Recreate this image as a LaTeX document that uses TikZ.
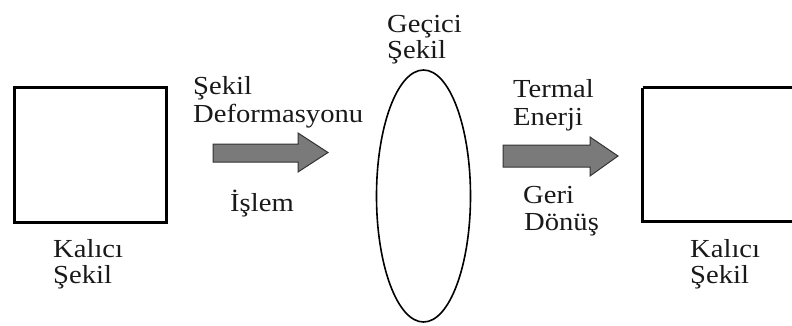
\documentclass[tikz,border=0pt]{standalone}
\usepackage{fontspec}
\setmainfont{Liberation Serif}
\usetikzlibrary{shapes.geometric}
\begin{document}
\begin{tikzpicture}[x=1pt,y=-1pt,
  lbl/.style={anchor=base west,inner sep=0pt,xscale=1.1,font=\fontsize{26}{29}\selectfont,text=black!90},
  shapebox/.style={draw=black,line width=3pt},
  bigarrow/.style={draw=black!80,line width=1pt,fill=black!52,line join=miter}]
\useasboundingbox (0,0) rectangle (792,325);
\clip (0,0) rectangle (792,325);
% shapes
\node[shapebox,minimum width=152pt,minimum height=135pt,inner sep=0pt] (left) at (90,155) {};
\draw[shapebox] (642.5,87.5) -- (800,87.5) (642.5,87.5) -- (642.5,221) -- (800,221);
\coordinate (right) at (700,155);
\node[draw=black,line width=1.6pt,ellipse,minimum width=94pt,minimum height=252pt,inner sep=0pt] (mid) at (423.5,196) {};
% arrows
\draw[bigarrow] (213,144) -- (298,144) -- (298,133) -- (328,152.5) -- (298,172) -- (298,162) -- (213,162) -- cycle;
\draw[bigarrow] (503,145) -- (590,145) -- (590,137) -- (618,156) -- (590,176) -- (590,167) -- (503,167) -- cycle;
% labels
\node[lbl] (t1a) at (193,94) {Şekil};
\node[lbl] (t1b) at (193,122) {Deformasyonu};
\node[lbl] (t2) at (230,211) {İşlem};
\node[lbl] (t3a) at (387,32) {Geçici};
\node[lbl] (t3b) at (387,58) {Şekil};
\node[lbl] (t4a) at (513,97) {Termal};
\node[lbl] (t4b) at (513,125) {Enerji};
\node[lbl] (t5a) at (523,203) {Geri};
\node[lbl] (t5b) at (524,230) {Dönüş};
\node[lbl] (t6a) at (53,257) {Kalıcı};
\node[lbl] (t6b) at (53,283) {Şekil};
\node[lbl] (t7a) at (690,257) {Kalıcı};
\node[lbl] (t7b) at (690,283) {Şekil};
\end{tikzpicture}
\end{document}
